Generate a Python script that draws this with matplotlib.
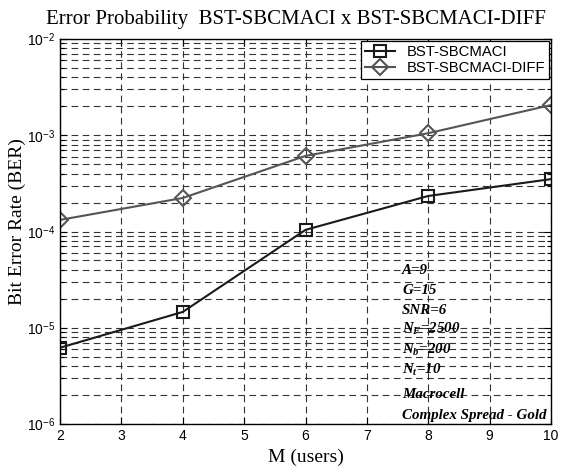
import numpy as np
import matplotlib
matplotlib.use('Agg')
import matplotlib.pyplot as plt
from matplotlib.ticker import LogLocator, NullFormatter, FixedLocator, FuncFormatter

users = [2, 4, 6, 8, 10]
ber_sbcmaci = [6.2e-6, 1.46e-5, 1.04e-4, 2.34e-4, 3.5e-4]
ber_sbcmaci_diff = [1.32e-4, 2.23e-4, 6.1e-4, 1.05e-3, 2.06e-3]
series_names = ['BST-SBCMACI', 'BST-SBCMACI-DIFF']
notes = ['A=9', 'G=15', 'SNR=6', r'$N_F$=2500', r'$N_b$=200', r'$N_t$=10',
         'Macrocell', 'Complex Spread - Gold']

plt.rcParams['mathtext.fontset'] = 'custom'
plt.rcParams['mathtext.rm'] = 'Liberation Sans'
plt.rcParams['mathtext.it'] = 'Liberation Serif:italic:bold'
plt.rcParams['mathtext.bf'] = 'Liberation Serif:bold'

fig = plt.figure(figsize=(5.61, 4.75), dpi=100)
ax = fig.add_axes([60/561, 51/475, 491/561, 385/475])

ax.plot(users, ber_sbcmaci, color='#1a1a1a', lw=1.5, marker='s', ms=9,
        mfc='none', mec='#1a1a1a', mew=1.5, label=series_names[0])
ax.plot(users, ber_sbcmaci_diff, color='#555555', lw=1.5, marker='D', ms=8,
        mfc='none', mec='#555555', mew=1.5, label=series_names[1])

ax.set_yscale('log')
ax.set_xlim(2, 10)
ax.set_ylim(1e-6, 1e-2)
ax.xaxis.set_major_locator(FixedLocator(range(2, 11)))
ax.yaxis.set_major_locator(LogLocator(base=10, numticks=10))
ax.yaxis.set_minor_locator(LogLocator(base=10, subs=np.arange(2, 10), numticks=20))
ax.yaxis.set_minor_formatter(NullFormatter())
ax.yaxis.set_major_formatter(FuncFormatter(lambda v, p: r'$10^{%d}$' % round(np.log10(v))))

ax.tick_params(which='both', direction='in', top=True, right=True,
               labelsize=10, width=0.8)
ax.tick_params(which='major', length=5)
ax.tick_params(which='minor', length=3)
for lab in ax.get_xticklabels():
    lab.set_fontfamily('Liberation Sans')

ax.grid(True, which='major', axis='both', color='#333333', lw=0.8, ls=(0, (6, 4)))
ax.grid(True, which='minor', axis='y', color='#333333', lw=0.8, ls=(0, (6, 4)))
for s in ax.spines.values():
    s.set_linewidth(1.0)

ax.set_title('Error Probability  BST-SBCMACI x BST-SBCMACI-DIFF',
             family='Liberation Serif', fontsize=15, pad=11, x=0.48)
ax.set_xlabel('M (users)', family='Liberation Serif', fontsize=14, labelpad=4)
ax.set_ylabel('Bit Error Rate (BER)', family='Liberation Serif', fontsize=14)
ax.yaxis.set_label_coords(-0.069, 0.525)

leg = ax.legend(loc='upper right', prop={'family': 'Liberation Sans', 'size': 10.7},
                fancybox=False, edgecolor='black', framealpha=1,
                borderaxespad=0.15, handlelength=2.0, borderpad=0.25, labelspacing=0.15)
leg.get_frame().set_linewidth(0.9)

note_y = [271, 290, 311, 329, 350, 370, 395, 415]
for txt, py in zip(notes, note_y):
    ax.text(402/561, 1 - py/475, txt, transform=fig.transFigure,
            family='Liberation Serif', style='italic', weight='bold',
            fontsize=10.8, va='center', ha='left')

fig.savefig('out.png', dpi=100)
